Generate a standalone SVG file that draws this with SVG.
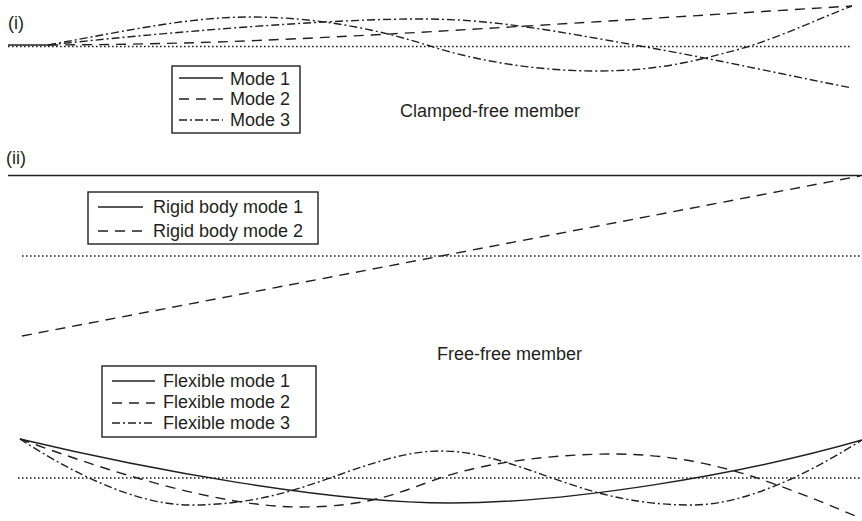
<svg xmlns="http://www.w3.org/2000/svg" width="862" height="521" viewBox="0 0 862 521">
<style>
  text { font-family: "Liberation Sans", Arial, sans-serif; font-size: 18px; fill: #231f20; }
  .ln { fill: none; stroke: #231f20; stroke-width: 1.4; }
  .dash { stroke-dasharray: 10 7; }
  .dashdot { stroke-dasharray: 8 3 2 3; }
  .dot { stroke-dasharray: 1.6 2.4; stroke-width: 1.5; }
  .box { fill: #fff; stroke: #231f20; stroke-width: 1.4; }
</style>
<rect width="862" height="521" fill="#fff"/>

<!-- (i) Clamped-free member -->
<g id="panel-i">
  <text x="8" y="29">(i)</text>
  <line class="ln dot" x1="8" y1="46.5" x2="852" y2="46.5"/>
  <line class="ln" x1="8" y1="45" x2="48" y2="45"/>
  <path class="ln dash" d="M48,45 C250,44 350,37 852,6"/>
  <path class="ln dashdot" d="M48,45 C150,34 330,18 430,19 C500,20 560,32 640,46 C720,60 790,76 852,88"/>
  <path class="ln dashdot" d="M48,45 C130,30 190,17 250,17 C320,17 380,30 430,46 C480,62 540,71 597,71 C660,71 700,60 747,47 C790,33 820,18 852,6"/>
  <text x="400" y="117">Clamped-free member</text>
</g>
<g id="legend-i">
  <rect class="box" x="172" y="66" width="128" height="67"/>
  <line class="ln" x1="179" y1="78" x2="223" y2="78"/>
  <line class="ln dash" x1="179" y1="99" x2="223" y2="99"/>
  <line class="ln dashdot" x1="179" y1="120" x2="223" y2="120"/>
  <text x="230" y="85">Mode 1</text>
  <text x="230" y="105">Mode 2</text>
  <text x="230" y="126">Mode 3</text>
</g>

<!-- (ii) Free-free member: rigid body modes -->
<g id="panel-ii-rigid">
  <text x="6" y="164">(ii)</text>
  <line class="ln" x1="8" y1="175.5" x2="862" y2="175.5"/>
  <line class="ln dot" x1="22" y1="256" x2="862" y2="256"/>
  <line class="ln dash" x1="22" y1="336" x2="860" y2="176"/>
</g>
<g id="legend-rigid">
  <rect class="box" x="88" y="192" width="230" height="52"/>
  <line class="ln" x1="98" y1="207" x2="143" y2="207"/>
  <line class="ln dash" x1="98" y1="231" x2="143" y2="231"/>
  <text x="153" y="213">Rigid body mode 1</text>
  <text x="153" y="237">Rigid body mode 2</text>
</g>

<text x="437" y="360">Free-free member</text>

<!-- flexible modes -->
<g id="panel-ii-flex">
  <line class="ln dot" x1="18" y1="478" x2="862" y2="478"/>
  <path class="ln" d="M20,439 C150,470 330,503 450,503 C570,503 740,475 862,440"/>
  <path class="ln dash" d="M20,439 C110,472 220,507 300,507 C370,507 400,492 440,478 C490,461 560,454 613,454 C670,454 720,465 763,480 C800,493 830,505 860,518"/>
  <path class="ln dashdot" d="M20,439 C60,465 130,505 190,505 C250,505 290,492 330,478 C380,460 410,451 441,451 C472,451 502,460 552,478 C592,492 632,505 692,505 C752,505 822,465 862,440"/>
</g>
<g id="legend-flex">
  <rect class="box" x="102" y="366" width="214" height="71"/>
  <line class="ln" x1="112" y1="381" x2="155" y2="381"/>
  <line class="ln dash" x1="112" y1="403" x2="155" y2="403"/>
  <line class="ln dashdot" x1="112" y1="423" x2="155" y2="423"/>
  <text x="163" y="387">Flexible mode 1</text>
  <text x="163" y="408">Flexible mode 2</text>
  <text x="163" y="429">Flexible mode 3</text>
</g>
</svg>
